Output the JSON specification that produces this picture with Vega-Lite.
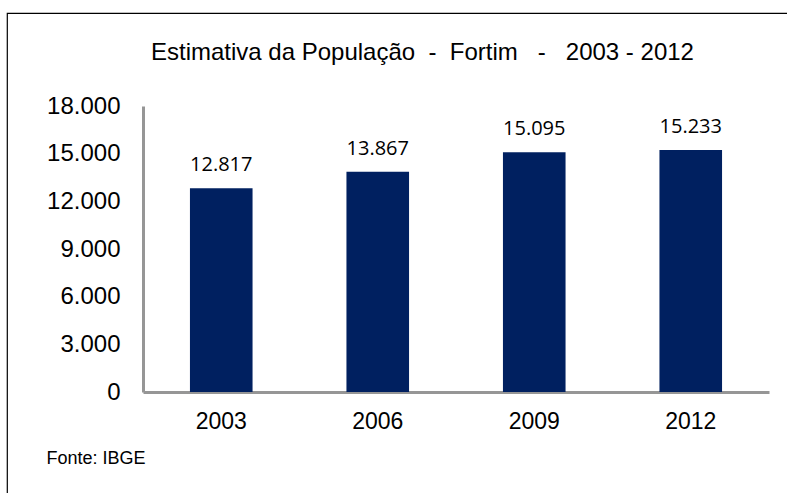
{
  "$schema": "https://vega.github.io/schema/vega-lite/v6.json",
  "autosize": "none",
  "width": 800,
  "height": 500,
  "padding": {"left": 7, "top": 13, "right": 0, "bottom": 0},
  "background": "white",
  "config": {
    "view": {"stroke": "#000000", "strokeWidth": 1.2},
    "font": "Liberation Sans",
    "locale": {"number": {"decimal": ",", "thousands": ".", "grouping": [3], "currency": ["R$", ""]}}
  },
  "title": {
    "text": "Estimativa da População\u00a0\u00a0-\u00a0\u00a0Fortim\u00a0\u00a0\u00a0-\u00a0\u00a0\u00a02003 - 2012",
    "font": "Liberation Sans",
    "fontSize": 24,
    "fontWeight": "normal",
    "color": "#000000",
    "anchor": "start",
    "frame": "group",
    "baseline": "middle",
    "dx": 144,
    "dy": 68
  },
  "data": {
    "values": [
      {"ano": "2003", "populacao": 12817},
      {"ano": "2006", "populacao": 13867},
      {"ano": "2009", "populacao": 15095},
      {"ano": "2012", "populacao": 15233}
    ]
  },
  "encoding": {
    "x": {
      "field": "ano",
      "type": "nominal",
      "sort": null,
      "scale": {"range": [136, 762], "paddingInner": 0.6, "paddingOuter": 0.3},
      "axis": {
        "orient": "bottom",
        "offset": -121,
        "domainColor": "#969696",
        "domainWidth": 3,
        "ticks": false,
        "tickSize": 0,
        "labelAngle": 0,
        "labelPadding": 18,
        "labelFont": "Liberation Sans",
        "labelFontSize": 23,
        "labelColor": "#000000",
        "title": "Fonte: IBGE",
        "titleFont": "Liberation Sans",
        "titleFontSize": 18,
        "titleFontWeight": "normal",
        "titleColor": "#000000",
        "titleAnchor": "start",
        "titleAlign": "left",
        "titleBaseline": "middle",
        "titleX": 39,
        "titleY": 66
      }
    },
    "y": {
      "field": "populacao",
      "type": "quantitative",
      "scale": {"domain": [0, 18000], "range": [379, 93], "nice": false, "zero": true},
      "axis": {
        "orient": "left",
        "offset": -136,
        "values": [0, 3000, 6000, 9000, 12000, 15000, 18000],
        "format": ",d",
        "grid": false,
        "ticks": false,
        "tickSize": 0,
        "labelPadding": 23,
        "labelFont": "Liberation Sans",
        "labelFontSize": 24,
        "labelColor": "#000000",
        "domainColor": "#969696",
        "domainWidth": 3,
        "title": null
      }
    }
  },
  "layer": [
    {"mark": {"type": "bar", "color": "#002060"}},
    {
      "mark": {"type": "text", "font": "Open Sans", "fontSize": 20, "color": "#000000", "baseline": "alphabetic", "dy": -17},
      "encoding": {"text": {"field": "populacao", "type": "quantitative", "format": ",d"}}
    }
  ]
}
